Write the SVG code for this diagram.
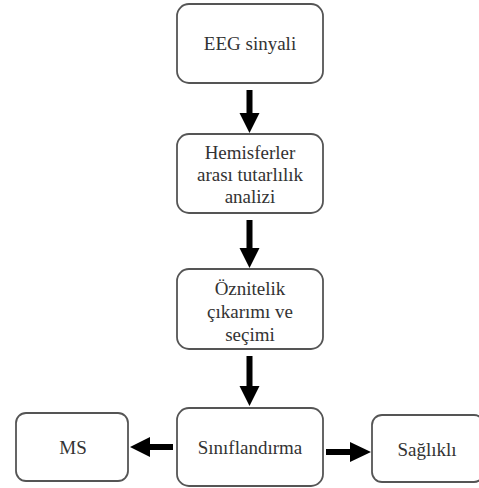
<svg xmlns="http://www.w3.org/2000/svg" width="479" height="488" viewBox="0 0 479 488">
<style>
.box{fill:#fff;stroke:#555;stroke-width:1.8}
.t{font-family:"Liberation Serif","Times New Roman",serif;font-size:19px;fill:#333;text-anchor:middle}
.arr{fill:#000}
</style>
<rect width="479" height="488" fill="#fff"/>
<g id="n1"><rect class="box" x="177" y="4" width="146" height="79" rx="12"/><text class="t" x="250" y="50">EEG sinyali</text></g>
<g id="n2"><rect class="box" x="177" y="134" width="146" height="79" rx="12"/><text class="t" x="250" y="159">Hemisferler</text><text class="t" x="250" y="181">arası tutarlılık</text><text class="t" x="250" y="203">analizi</text></g>
<g id="n3"><rect class="box" x="177" y="269" width="146" height="80" rx="12"/><text class="t" x="250" y="295">Öznitelik</text><text class="t" x="250" y="318">çıkarımı ve</text><text class="t" x="250" y="341">seçimi</text></g>
<g id="n4"><rect class="box" x="177" y="408" width="146" height="78" rx="12"/><text class="t" x="250" y="454">Sınıflandırma</text></g>
<g id="n5"><rect class="box" x="16" y="413" width="112" height="68" rx="10"/><text class="t" x="73" y="454">MS</text></g>
<g id="n6"><rect class="box" x="372" y="415" width="112" height="67" rx="10"/><text class="t" x="427" y="456">Sağlıklı</text></g>
<g id="connectors">
<polygon class="arr" points="246.5,90 252.5,90 252.5,113 259.5,113 249.5,133 239.5,113 246.5,113"/>
<polygon class="arr" points="246.5,220 252.5,220 252.5,248 259.5,248 249.5,268 239.5,248 246.5,248"/>
<polygon class="arr" points="246.5,356 252.5,356 252.5,386 259.5,386 249.5,406 239.5,386 246.5,386"/>
<polygon class="arr" points="173,444 150,444 150,437 130,447 150,457 150,450 173,450"/>
<polygon class="arr" points="326,449 350,449 350,442 371,452 350,462 350,455 326,455"/>
</g>
</svg>
